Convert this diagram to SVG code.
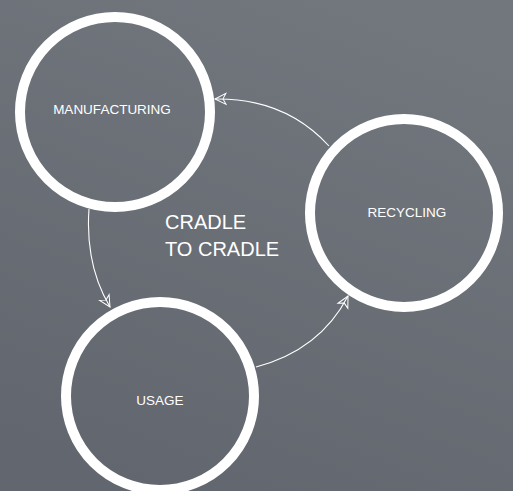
<svg xmlns="http://www.w3.org/2000/svg" width="513" height="491" viewBox="0 0 513 491">
  <defs>
    <linearGradient id="bg" x1="0.7" y1="0" x2="0.3" y2="1">
      <stop offset="0" stop-color="#72777e"/>
      <stop offset="1" stop-color="#62666e"/>
    </linearGradient>
    <marker id="arr" markerUnits="userSpaceOnUse" markerWidth="14" markerHeight="14" viewBox="-1 -1 14 13" refX="11" refY="5.5" orient="auto">
      <path d="M0,0 L11,5.5 L0,11 L3,5.5 Z" fill="none" stroke="#ffffff" stroke-width="1"/>
    </marker>
    <style>
      .ring { fill: none; stroke: #ffffff; stroke-width: 10; }
      .lbl { font-family: "Liberation Sans", Arial, sans-serif; font-size: 13.5px; fill: #ffffff; text-anchor: middle; }
      .title { font-family: "Liberation Sans", Arial, sans-serif; font-size: 20px; fill: #ffffff; }
      .conn { fill: none; stroke: #ffffff; stroke-width: 1.1; marker-end: url(#arr); }
    </style>
  </defs>
  <rect x="0" y="0" width="513" height="491" fill="url(#bg)"/>
  <g id="connectors">
    <path class="conn" d="M329,146 Q285,98 215,99"/>
    <path class="conn" d="M89,209 Q85,265 110,307"/>
    <path class="conn" d="M256,367 Q320,350 348,296"/>
  </g>
  <g id="manufacturing">
    <circle class="ring" cx="115" cy="112" r="95"/>
    <text class="lbl" x="112" y="114">MANUFACTURING</text>
  </g>
  <g id="recycling">
    <circle class="ring" cx="404" cy="213" r="94"/>
    <text class="lbl" x="407" y="217">RECYCLING</text>
  </g>
  <g id="usage">
    <circle class="ring" cx="160" cy="396" r="94"/>
    <text class="lbl" x="160" y="405">USAGE</text>
  </g>
  <g id="title">
    <text class="title" x="165" y="229">CRADLE</text>
    <text class="title" x="165" y="256">TO CRADLE</text>
  </g>
</svg>
